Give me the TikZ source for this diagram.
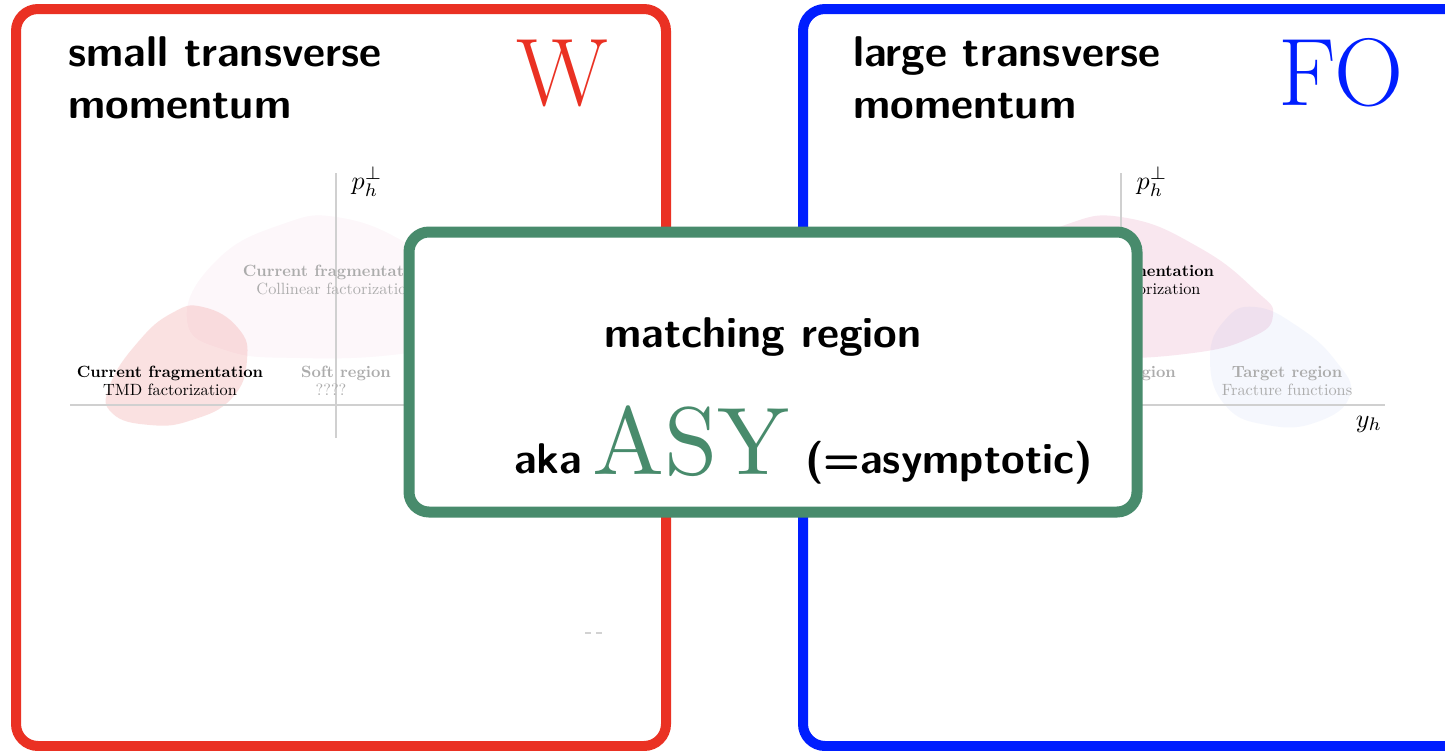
\documentclass[tikz,border=0pt]{standalone}
\definecolor{redbox}{RGB}{234,49,35}
\definecolor{bluebox}{RGB}{0,30,255}
\definecolor{greenbox}{RGB}{72,139,108}
\definecolor{axisgray}{RGB}{208,208,208}
\definecolor{fadetext}{RGB}{172,172,172}
\definecolor{tmdbase}{RGB}{228,60,60}
\definecolor{colbase}{RGB}{210,60,130}
\definecolor{tgtbase}{RGB}{70,110,230}
\newcommand\rtxt[1]{\scalebox{1.63}{\fontsize{10}{12}\selectfont #1}}
\newcommand\regdiag[1]{%
  \fill[colblob] plot[smooth cycle, tension=0.8] coordinates {(187,320) (215,262) (280,225) (342,218) (415,248) (470,290) (488,315) (465,338) (400,354) (300,358) (225,350)};
  \fill[tmdblob] plot[smooth cycle, tension=0.8] coordinates {(203,307) (238,328) (247,360) (232,398) (192,420) (150,425) (112,413) (110,385) (138,342) (172,313)};
  \fill[tgtblob] plot[smooth cycle, tension=0.8] coordinates {(425,358) (440,320) (470,307) (512,326) (550,360) (565,395) (532,422) (482,425) (440,405)};
  \coordinate (#1xa) at (70,405); \coordinate (#1xb) at (600,405);
  \coordinate (#1ya) at (336,438); \coordinate (#1yb) at (336,173);
  \draw[axisline] (#1xa) -- (#1xb);
  \draw[axisline] (#1ya) -- (#1yb);
  \node[axlbl] (#1pt) at (367,182) {\scalebox{2.6}{\fontsize{10}{12}\selectfont$p_h^\perp$}};
  \node[regtext, tmdtext, anchor=base] (#1tmdA) at (170,377) {\rtxt{\bfseries Current fragmentation}};
  \node[regtext, tmdtext, anchor=base] (#1tmdB) at (170,395) {\rtxt{TMD factorization}};
  \node[regtext, coltext, anchor=base] (#1colA) at (336,276) {\rtxt{\bfseries Current fragmentation}};
  \node[regtext, coltext, anchor=base] (#1colB) at (336,294) {\rtxt{Collinear factorization}};
  \node[regtext, text=fadetext, anchor=base] (#1softA) at (346,377) {\rtxt{\bfseries Soft region}};
  \node[regtext, text=fadetext, anchor=base] (#1softB) at (331,395) {\rtxt{????}};
  \node[regtext, text=fadetext, anchor=base] (#1tgtA) at (502,377) {\rtxt{\bfseries Target region}};
  \node[regtext, text=fadetext, anchor=base] (#1tgtB) at (502,395) {\rtxt{Fracture functions}};
}
\begin{document}
\begin{tikzpicture}[x=1pt, y=-1pt,
  frame/.style={line width=10pt, rounded corners=22pt, fill=white},
  greenframe/.style={line width=11pt, draw=greenbox, rounded corners=20pt, fill=white},
  title/.style={inner sep=0pt, font=\sffamily\bfseries\fontsize{43}{52}\selectfont},
  bigletter/.style={inner sep=0pt, font=\fontsize{96}{100}\selectfont},
  axisline/.style={draw=axisgray, line width=1.2pt},
  axlbl/.style={inner sep=0pt},
  regtext/.style={inner sep=0pt},
  tmdblob/.style={fill=tmdbase, fill opacity=0.15},
  colblob/.style={fill=colbase, fill opacity=0.04},
  tgtblob/.style={fill=tgtbase, fill opacity=0.05},
  tmdtext/.style={text=black},
  coltext/.style={text=fadetext}]
\useasboundingbox (0,0) rectangle (1445,750);
\clip (0,0) rectangle (1445,750);
\fill[white] (0,0) rectangle (1445,750);
% left panel
\draw[frame, draw=redbox] (16,9) rectangle (666,746);
\begin{scope}
  \regdiag{L}
\end{scope}
\node[title, anchor=base west] (lt1) at (68,66) {small transverse};
\node[title, anchor=base west] (lt2) at (68,118) {momentum};
\node[bigletter, text=redbox, anchor=base] (W) at (562,105) {W};
\coordinate (dsA) at (585,633); \coordinate (dsB) at (602,633);
\draw[gray!35, line width=1.5pt, dash pattern=on 6pt off 5pt] (dsA) -- (dsB);
% right panel
\draw[frame, draw=bluebox] (803,9) rectangle (1475,746);
\begin{scope}[shift={(785,0)},
  tmdblob/.style={fill=tmdbase, fill opacity=0.04},
  colblob/.style={fill=colbase, fill opacity=0.12},
  tgtblob/.style={fill=tgtbase, fill opacity=0.05},
  tmdtext/.style={text=fadetext},
  coltext/.style={text=black}]
  \regdiag{R}
  \node[axlbl] (Ryh) at (584,424) {\scalebox{2.6}{\fontsize{10}{12}\selectfont$y_h$}};
\end{scope}
\node[title, anchor=base west] (rt1) at (853,66) {large transverse};
\node[title, anchor=base west] (rt2) at (853,118) {momentum};
\node[bigletter, text=bluebox, anchor=base] (FO) at (1341,105) {FO};
% matching region
\draw[greenframe] (409,232) rectangle (1137,512);
\node[title, anchor=base] (match) at (763,347) {matching region};
\node[title, anchor=base west] (aka) at (514,473) {aka};
\node[inner sep=0pt, text=greenbox, anchor=base] (asy) at (691,474) {\scalebox{9.6}{\fontsize{10}{12}\selectfont ASY}};
\node[title, anchor=base west] (asym) at (805,473) {(=asymptotic)};
\end{tikzpicture}
\end{document}
